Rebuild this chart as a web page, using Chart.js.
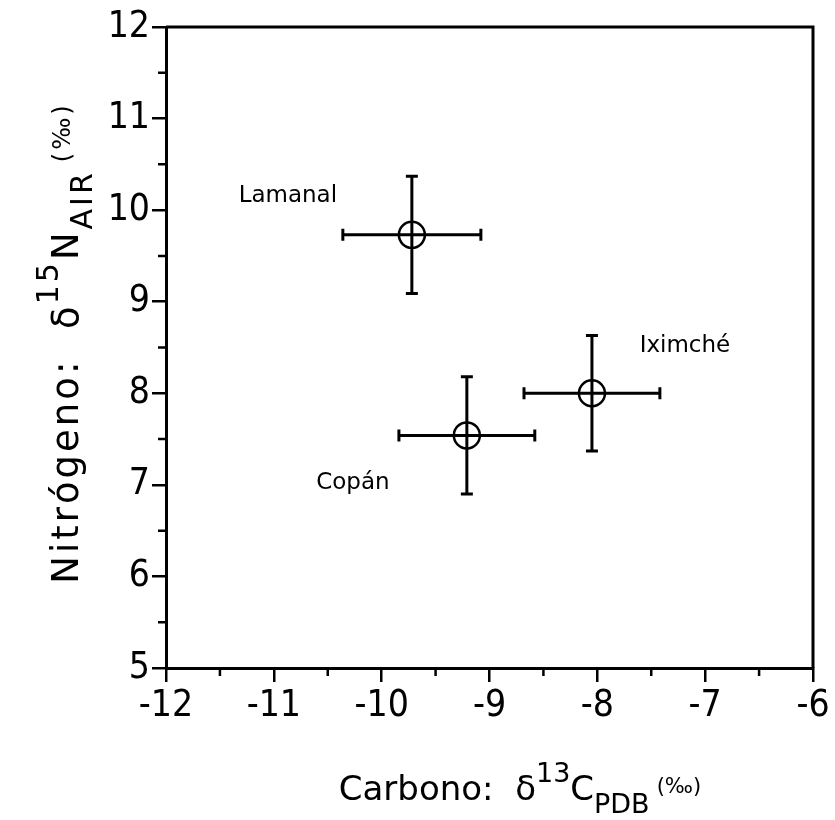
<!DOCTYPE html>
<html><head><meta charset="utf-8">
<script src="https://cdn.jsdelivr.net/npm/chart.js@4"></script>
<style>html,body{margin:0;padding:0;background:#fff}</style>
</head><body>
<canvas id="c" width="835" height="820"></canvas>
<script>
// ---- data ----
const sites = ['Lamanal', 'Copán', 'Iximché'];
const carbon = [-9.72, -9.21, -8.05];
const nitrogen = [9.73, 7.54, 8.00];
const carbonErr = [0.64, 0.63, 0.63];
const nitrogenErr = [0.64, 0.64, 0.63];
const xTickValues = [-12, -11, -10, -9, -8, -7, -6];
const yTickValues = [5, 6, 7, 8, 9, 10, 11, 12];
const xMinorTicks = [-11.5, -10.5, -9.5, -8.5, -7.5, -6.5];
const yMinorTicks = [5.5, 6.5, 7.5, 8.5, 9.5, 10.5, 11.5];

// ---- styling (pixel offsets of site labels from their point) ----
const labelOffsets = [[-124, -39], [-114, 48], [93, -47]];

const TXT = "'DejaVu Sans', 'Noto Sans', sans-serif";
const NUM = "'Liberation Sans Narrow', 'DejaVu Sans Condensed', 'Liberation Sans', sans-serif";

function richText(ctx, segs, cx, cy, angle, spacing) {
  ctx.save();
  ctx.translate(cx, cy);
  ctx.rotate(angle);
  ctx.fillStyle = '#000';
  ctx.textBaseline = 'alphabetic';
  ctx.textAlign = 'left';
  const sp = spacing || 0;
  let total = 0;
  segs.forEach(s => {
    ctx.font = s.size + 'px ' + TXT;
    s.w = ctx.measureText(s.t).width + sp * s.t.length;
    total += s.w + (s.gap || 0);
  });
  let x = -total / 2;
  segs.forEach(s => {
    ctx.font = s.size + 'px ' + TXT;
    let cx2 = x;
    for (const ch of s.t) { ctx.fillText(ch, cx2, s.dy); cx2 += ctx.measureText(ch).width + sp; }
    x += s.w + (s.gap || 0);
  });
  ctx.restore();
}

const decor = {
  id: 'decor',
  beforeDatasetsDraw(chart) {
    const ctx = chart.ctx, xs = chart.scales.x, ys = chart.scales.y, a = chart.chartArea;
    ctx.save();
    ctx.strokeStyle = '#000';
    ctx.lineCap = 'butt';
    ctx.lineWidth = 3;
    ctx.beginPath();
    ctx.moveTo(a.left, a.top); ctx.lineTo(a.right, a.top); ctx.lineTo(a.right, a.bottom);
    ctx.stroke();
    ctx.lineWidth = 2.5;
    ctx.beginPath();
    xMinorTicks.forEach(v => { const px = xs.getPixelForValue(v); ctx.moveTo(px, a.bottom); ctx.lineTo(px, a.bottom + 8); });
    yMinorTicks.forEach(v => { const py = ys.getPixelForValue(v); ctx.moveTo(a.left, py); ctx.lineTo(a.left - 8, py); });
    ctx.stroke();
    ctx.lineWidth = 3;
    const cap = 6;
    ctx.beginPath();
    for (let i = 0; i < carbon.length; i++) {
      const x0 = xs.getPixelForValue(carbon[i] - carbonErr[i]);
      const x1 = xs.getPixelForValue(carbon[i] + carbonErr[i]);
      const yc = ys.getPixelForValue(nitrogen[i]);
      const y0 = ys.getPixelForValue(nitrogen[i] - nitrogenErr[i]);
      const y1 = ys.getPixelForValue(nitrogen[i] + nitrogenErr[i]);
      const xc = xs.getPixelForValue(carbon[i]);
      ctx.moveTo(x0, yc); ctx.lineTo(x1, yc);
      ctx.moveTo(x0, yc - cap); ctx.lineTo(x0, yc + cap);
      ctx.moveTo(x1, yc - cap); ctx.lineTo(x1, yc + cap);
      ctx.moveTo(xc, y0); ctx.lineTo(xc, y1);
      ctx.moveTo(xc - cap, y0); ctx.lineTo(xc + cap, y0);
      ctx.moveTo(xc - cap, y1); ctx.lineTo(xc + cap, y1);
    }
    ctx.stroke();
    ctx.restore();
  },
  afterDraw(chart) {
    const ctx = chart.ctx, xs = chart.scales.x, ys = chart.scales.y;
    ctx.save();
    ctx.fillStyle = '#000';
    ctx.font = '23px ' + TXT;
    ctx.textAlign = 'center';
    ctx.textBaseline = 'middle';
    sites.forEach((s, i) => {
      ctx.fillText(s, xs.getPixelForValue(carbon[i]) + labelOffsets[i][0], ys.getPixelForValue(nitrogen[i]) + labelOffsets[i][1]);
    });
    ctx.restore();
    richText(ctx, [
      {t: 'Carbono:  δ', size: 34, dy: 0},
      {t: '13', size: 27, dy: -18},
      {t: 'C', size: 34, dy: 0},
      {t: 'PDB', size: 27, dy: 13, gap: 7},
      {t: '(‰)', size: 21, dy: -7}
    ], 520, 800, 0, 0);
    richText(ctx, [
      {t: 'Nitrógeno:  δ', size: 37, dy: 0},
      {t: '15', size: 30, dy: -20},
      {t: 'N', size: 37, dy: 0},
      {t: 'AIR', size: 30, dy: 14, gap: 8},
      {t: '(‰)', size: 24, dy: -8}
    ], 78, 343, -Math.PI / 2, 3);
  }
};

new Chart(document.getElementById('c'), {
  type: 'scatter',
  data: {
    datasets: [{
      label: 'Sitios',
      data: carbon.map((c, i) => ({x: c, y: nitrogen[i]})),
      pointStyle: 'circle',
      pointRadius: 13,
      pointHoverRadius: 13,
      pointBorderWidth: 2.5,
      borderColor: '#000',
      backgroundColor: 'rgba(0,0,0,0)'
    }]
  },
  options: {
    responsive: false,
    devicePixelRatio: 1,
    animation: false,
    events: [],
    layout: {padding: {top: 27, right: 22, left: 0, bottom: 0}},
    plugins: {legend: {display: false}, tooltip: {enabled: false}},
    scales: {
      x: {
        type: 'linear', min: -12, max: -6,
        afterBuildTicks: s => { s.ticks = xTickValues.map(v => ({value: v})); },
        afterFit: s => { s.height = 152; },
        ticks: {color: '#000', font: {family: NUM, size: 37}, padding: 2, maxRotation: 0, autoSkip: false},
        grid: {drawOnChartArea: false, color: '#000', lineWidth: 2.5, tickLength: 14},
        border: {display: true, color: '#000', width: 3}
      },
      y: {
        type: 'linear', min: 5, max: 12,
        afterBuildTicks: s => { s.ticks = yTickValues.map(v => ({value: v})); },
        afterFit: s => { s.width = 166; },
        ticks: {color: '#000', font: {family: NUM, size: 37}, padding: 2, autoSkip: false},
        grid: {drawOnChartArea: false, color: '#000', lineWidth: 2.5, tickLength: 14},
        border: {display: true, color: '#000', width: 3}
      }
    }
  },
  plugins: [decor]
});
</script>
</body></html>
